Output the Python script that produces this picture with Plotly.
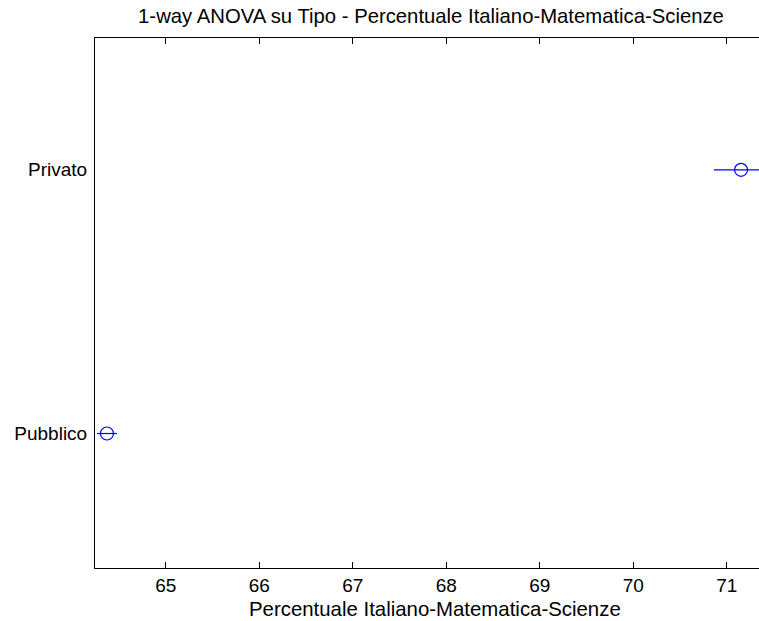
import plotly.graph_objects as go

groups = ["Pubblico", "Privato"]
group_pos = [1, 2]
means = [64.372, 71.153]
half_width = [0.107, 0.29]
x_ticks = [65, 66, 67, 68, 69, 70, 71]

BLUE = "#0000FF"
FONT = "Liberation Sans, Arial, sans-serif"
FS = 19

fig = go.Figure()
fig.add_trace(go.Scatter(
    x=means, y=group_pos, mode="markers",
    marker=dict(symbol="circle-open", size=13, color=BLUE, line=dict(width=1.2, color=BLUE)),
    error_x=dict(type="data", array=half_width, symmetric=True, color=BLUE, thickness=1.2, width=0),
    showlegend=False, hoverinfo="x+y",
))

fig.add_annotation(
    text="Percentuale Italiano-Matematica-Scienze",
    xref="paper", yref="paper", x=(435 - 95) / 664, y=0,
    xanchor="center", yanchor="middle", yshift=-41, showarrow=False,
    font=dict(size=20.4, family=FONT, color="black"),
)

fig.update_layout(
    width=759, height=621,
    margin=dict(l=95, r=0, t=38, b=53),
    paper_bgcolor="white", plot_bgcolor="white",
    font=dict(family=FONT, size=FS, color="black"),
    title=dict(text="1-way ANOVA su Tipo - Percentuale Italiano-Matematica-Scienze",
               x=431 / 759, xanchor="center", y=0.975, yanchor="middle",
               font=dict(size=20.3, family=FONT, color="black")),
    xaxis=dict(range=[64.244, 71.345], tickvals=x_ticks, ticks="inside", ticklen=6,
               tickcolor="black", showline=True, linecolor="black", linewidth=1,
               mirror="ticks", showgrid=False, zeroline=False,
               tickfont=dict(size=FS, family=FONT)),
    yaxis=dict(range=[0.49, 2.5], tickvals=group_pos, ticktext=groups, ticks="",
               showline=True, linecolor="black", linewidth=1, mirror=False,
               showgrid=False, zeroline=False, ticklabelstandoff=3,
               tickfont=dict(size=FS, family=FONT)),
)

fig.write_html("out.html")
